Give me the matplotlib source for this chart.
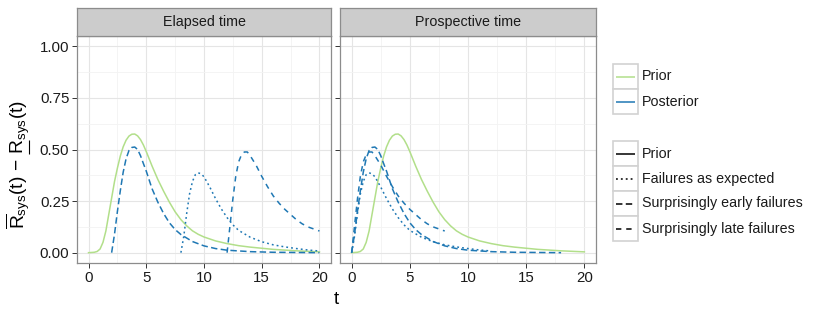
import matplotlib
matplotlib.use("Agg")
import matplotlib.pyplot as plt
from matplotlib.patches import Rectangle
import numpy as np

plt.rcParams['font.family'] = ['Liberation Sans', 'DejaVu Sans']
plt.rcParams['mathtext.fontset'] = 'custom'
plt.rcParams['mathtext.rm'] = 'Liberation Sans'
plt.rcParams['mathtext.it'] = 'Liberation Sans'
plt.rcParams['mathtext.default'] = 'regular'

# prior curve
prior_t = [0, 0.5, 0.75, 1, 1.25, 1.5, 1.75, 2, 2.25, 2.5, 2.75, 3, 3.25, 3.5, 3.75, 4, 4.25,
           4.5, 4.75, 5, 5.5, 6, 6.5, 7, 7.5, 8, 8.5, 9, 9.5, 10, 11, 12, 13, 14, 16, 18, 20]
prior_v = [0, 0.002, 0.006, 0.018, 0.05, 0.105, 0.185, 0.265, 0.345, 0.41, 0.468, 0.513,
           0.545, 0.565, 0.574, 0.575, 0.566, 0.548, 0.522, 0.49, 0.42, 0.355, 0.298, 0.245,
           0.198, 0.16, 0.13, 0.106, 0.089, 0.076, 0.057, 0.044, 0.034, 0.027, 0.016, 0.009,
           0.004]

# posterior curves in elapsed time, with the time at which each starts
early_start = 2
early_t = [2.0, 2.25, 2.5, 2.75, 3.0, 3.25, 3.5, 3.75, 4.0, 4.25, 4.5, 4.75, 5.0, 5.5, 6.0,
           6.5, 7.0, 7.5, 8.0, 9.0, 10, 11, 12, 14, 16, 18, 20]
early_v = [0, 0.09, 0.2, 0.3, 0.39, 0.455, 0.495, 0.51, 0.512, 0.5, 0.47, 0.432, 0.395, 0.31,
           0.245, 0.19, 0.145, 0.112, 0.088, 0.054, 0.033, 0.02, 0.012, 0.005, 0.002, 0.001, 0.0]

expected_start = 8
expected_t = [8.0, 8.25, 8.5, 8.75, 9.0, 9.25, 9.5, 9.75, 10.0, 10.5, 11, 11.5, 12, 12.5, 13,
              14, 15, 16, 17, 18, 19, 20]
expected_v = [0, 0.08, 0.19, 0.285, 0.345, 0.378, 0.387, 0.382, 0.368, 0.318, 0.262, 0.212,
              0.17, 0.135, 0.108, 0.075, 0.053, 0.038, 0.028, 0.02, 0.013, 0.008]

late_start = 12
late_t = [12.0, 12.25, 12.5, 12.75, 13.0, 13.25, 13.5, 13.75, 14.0, 14.5, 15, 15.5, 16, 16.5,
          17, 17.5, 18, 18.5, 19, 19.5, 20]
late_v = [0, 0.13, 0.26, 0.37, 0.44, 0.475, 0.488, 0.488, 0.47, 0.425, 0.37, 0.32, 0.275, 0.24,
          0.21, 0.185, 0.16, 0.14, 0.125, 0.115, 0.105]

panels = ['Elapsed time', 'Prospective time']
colour_labels = ['Prior', 'Posterior']
linetype_labels = ['Prior', 'Failures as expected', 'Surprisingly early failures',
                   'Surprisingly late failures']

green = '#b2df8a'
blue = '#1f78b4'
lw = 1.1
styles = {
    'Prior': '-',
    'Failures as expected': (0, (1.2, 2.0)),
    'Surprisingly early failures': (0, (4.2, 2.2)),
    'Surprisingly late failures': (0, (3.5, 3.2)),
}

W, H = 830, 312
fig = plt.figure(figsize=(W / 100, H / 100), dpi=100)

def px_axes(x0, y0, x1, y1):
    return fig.add_axes([x0 / W, 1 - y1 / H, (x1 - x0) / W, (y1 - y0) / H])

border = '#8c8c8c'
panel_boxes = [(77, 36, 331, 263), (340, 36, 596, 263)]
curves = [
    ('Failures as expected', expected_t, expected_v, expected_start),
    ('Surprisingly early failures', early_t, early_v, early_start),
    ('Surprisingly late failures', late_t, late_v, late_start),
]

for i, (name, box) in enumerate(zip(panels, panel_boxes)):
    x0, y0, x1, y1 = box
    ax = px_axes(x0, y0, x1, y1)
    ax.set_xlim(-1, 21)
    ax.set_ylim(-0.05, 1.05)
    ax.set_xticks([0, 5, 10, 15, 20])
    ax.set_yticks([0, 0.25, 0.5, 0.75, 1.0])
    ax.set_xticks([2.5, 7.5, 12.5, 17.5], minor=True)
    ax.set_yticks([0.125, 0.375, 0.625, 0.875], minor=True)
    ax.grid(True, which='major', color='#e5e5e5', lw=0.8)
    ax.grid(True, which='minor', color='#f3f3f3', lw=0.6)
    ax.set_axisbelow(True)
    ax.tick_params(which='minor', length=0)
    ax.tick_params(which='major', length=3.5, color='#333333', width=0.7,
                   labelsize=10.8, labelcolor='#1a1a1a', pad=2)
    if i == 1:
        ax.set_yticklabels([])
    else:
        ax.set_yticklabels(['0.00', '0.25', '0.50', '0.75', '1.00'])
    for sp in ax.spines.values():
        sp.set_color(border)
        sp.set_linewidth(0.9)

    ax.plot(prior_t, prior_v, color=green, lw=lw, ls=styles['Prior'])
    for lab, t, v, start in curves:
        tt = np.array(t, dtype=float)
        if i == 1:
            tt = tt - start
        ax.plot(tt, v, color=blue, lw=lw, ls=styles[lab])

    # strip
    sax = px_axes(x0, 8, x1, y0)
    sax.set_xticks([])
    sax.set_yticks([])
    sax.set_facecolor('#cccccc')
    for sp in sax.spines.values():
        sp.set_color(border)
        sp.set_linewidth(0.9)
    sax.text(0.5, 0.5, name, ha='center', va='center', fontsize=10.3, color='#1a1a1a',
             transform=sax.transAxes)

# overlay axes in pixel coordinates for labels and legends
lax = fig.add_axes([0, 0, 1, 1], facecolor='none')
lax.set_xlim(0, W)
lax.set_ylim(H, 0)
lax.axis('off')

lax.text(336, 299, 't', ha='center', va='center', fontsize=13.5)

# y label: mathtext has no \underline, so the underline is drawn by hand
ylab_fs = 13.8
body = r'\overline{\mathrm{R}}_{\mathrm{sys}}(\mathrm{t})\,-\,'
ylab = '$' + body + r'\mathrm{R}_{\mathrm{sys}}(\mathrm{t})$'
ylab_txt = lax.text(18, 165, ylab, rotation=90, ha='center', va='center', fontsize=ylab_fs)
renderer = fig.canvas.get_renderer()
tmp_full = lax.text(0, 0, ylab, fontsize=ylab_fs)
tmp_tail = lax.text(0, 0, r'$\mathrm{R}_{\mathrm{sys}}(\mathrm{t})$', fontsize=ylab_fs)
tmp_r = lax.text(0, 0, r'$\mathrm{R}$', fontsize=ylab_fs)
w_full = tmp_full.get_window_extent(renderer).width
w_tail = tmp_tail.get_window_extent(renderer).width
w_r = tmp_r.get_window_extent(renderer).width
for tmp in (tmp_full, tmp_tail, tmp_r):
    tmp.remove()
bb = ylab_txt.get_window_extent(renderer)
r_start = bb.y0 + (w_full - w_tail) + 0.5
line_x = bb.x1 - 2.5
lax.plot([line_x, line_x], [H - r_start, H - (r_start + w_r - 1)], color='black', lw=0.8,
         solid_capstyle='butt')

key_x0, key_x1 = 613, 638
row_h = 25

def draw_key(y_top, colour, style, label):
    lax.add_patch(Rectangle((key_x0, y_top), key_x1 - key_x0, row_h, facecolor='white',
                            edgecolor='#d2d2d2', lw=1.2))
    lax.plot([key_x0 + 3, key_x1 - 3], [y_top + row_h / 2] * 2, color=colour, lw=lw, ls=style,
             solid_capstyle='butt', dash_capstyle='butt')
    lax.text(key_x1 + 4, y_top + row_h / 2, label, ha='left', va='center', fontsize=10.3,
             color='#1a1a1a')

for j, lab in enumerate(colour_labels):
    draw_key(64 + j * row_h, [green, blue][j], '-', lab)

for j, lab in enumerate(linetype_labels):
    draw_key(141 + j * row_h, 'black', styles[lab], lab)

fig.savefig('out.png', dpi=100)
